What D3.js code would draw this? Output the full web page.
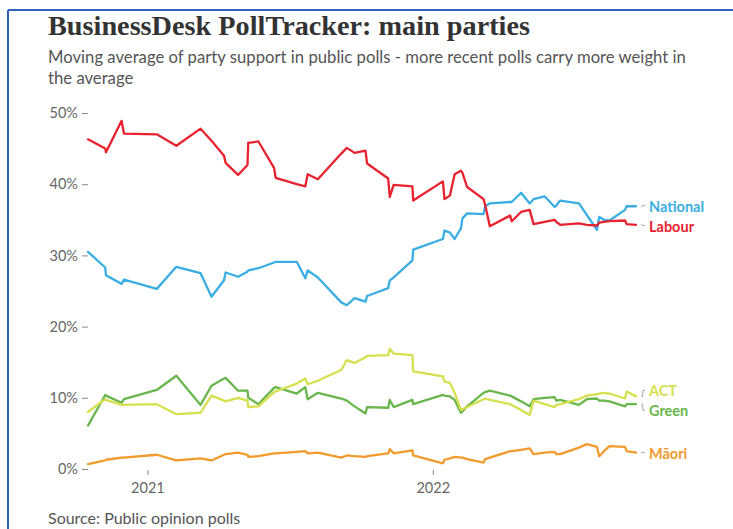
<!DOCTYPE html>
<html><head><meta charset="utf-8">
<script src="https://cdn.jsdelivr.net/npm/d3@7"></script>
<style>body{margin:0;background:#fff;overflow:hidden} svg{display:block}</style>
</head><body>
<svg id="chart" width="733" height="529"></svg>
<script>
// ---- data ----
const dates = ["2020-10-17","2020-11-08","2020-11-09","2020-11-29","2020-12-02","2021-01-13","2021-02-07","2021-03-10","2021-03-24","2021-04-09",
"2021-04-11","2021-04-27","2021-05-09","2021-05-10","2021-05-23","2021-06-12","2021-06-14","2021-07-11","2021-07-22","2021-07-25",
"2021-08-07","2021-09-06","2021-09-13","2021-09-23","2021-10-07","2021-10-09","2021-11-05","2021-11-07","2021-11-12","2021-12-06",
"2021-12-07","2022-01-14","2022-01-16","2022-01-23","2022-01-29","2022-02-06","2022-02-08","2022-02-14","2022-03-07","2022-03-09",
"2022-03-15","2022-04-10","2022-04-12","2022-04-24","2022-05-05","2022-05-10","2022-05-24","2022-06-06","2022-06-08","2022-06-13",
"2022-07-07","2022-07-17","2022-07-30","2022-08-02","2022-08-08","2022-08-15","2022-09-04","2022-09-06","2022-09-18"];
const labour = [46.3,45.0,44.5,48.9,47.1,47.0,45.4,47.8,46.1,44.0,
43.0,41.3,42.7,45.8,46.0,42.3,40.9,40.0,39.7,41.4,
40.7,44.3,45.1,44.4,44.7,42.9,40.8,38.2,39.9,39.7,
37.7,40.4,37.9,38.4,41.4,41.9,41.6,39.6,37.9,37.1,
34.1,35.6,34.8,36.1,36.4,34.4,34.7,35.0,34.7,34.3,
34.5,34.3,34.2,34.6,34.7,34.8,34.9,34.4,34.3];
const national = [30.5,28.3,27.2,26.0,26.6,25.3,28.4,27.5,24.2,26.5,
27.6,27.0,27.7,27.9,28.2,29.0,29.1,29.1,26.8,27.9,
26.9,23.4,23.0,24.0,23.5,24.3,25.4,26.5,26.9,29.3,
30.8,32.3,33.5,33.2,32.3,33.8,35.2,35.9,35.8,36.9,
37.3,37.5,37.5,38.8,37.3,37.9,38.3,36.8,37.0,37.7,
37.3,35.7,33.6,35.4,35.0,34.9,36.4,36.9,36.9];
const green = [6.1,10.4,10.3,9.3,9.8,11.1,13.1,9.0,11.7,12.7,
12.8,11.0,11.0,10.0,9.1,11.4,11.5,10.6,11.5,9.8,
10.7,9.9,9.6,8.8,7.8,8.7,8.6,9.7,8.7,9.7,
9.1,10.4,10.3,10.2,9.7,7.9,8.1,8.8,10.7,10.8,
11.0,10.3,10.2,9.5,8.8,9.8,10.0,10.1,9.6,9.7,
9.0,9.8,9.9,9.6,9.6,9.5,8.8,9.1,9.1];
const act = [8.0,9.8,9.7,9.0,9.0,9.1,7.7,7.9,10.3,9.6,
9.5,10.0,9.6,8.7,8.8,10.8,10.9,12.0,12.7,11.9,
12.4,13.9,15.3,14.9,15.7,15.9,16.0,16.9,16.2,16.0,
13.7,13.0,12.3,12.1,10.7,8.3,8.4,8.7,9.8,9.9,
9.7,9.1,9.0,8.3,7.6,9.6,9.1,8.7,9.0,9.1,
9.8,10.3,10.5,10.6,10.7,10.6,9.9,10.9,10.2];
const maori = [0.7,1.2,1.3,1.6,1.6,2.0,1.2,1.5,1.2,2.0,
2.1,2.3,2.0,1.7,1.8,2.2,2.2,2.4,2.5,2.2,
2.3,1.6,1.9,1.8,1.7,1.8,2.2,2.8,2.2,2.6,
1.9,0.8,1.3,1.5,1.7,1.6,1.6,1.4,0.9,1.4,
1.6,2.5,2.5,2.7,2.9,2.1,2.3,2.4,2.1,2.1,
3.0,3.5,3.1,1.8,2.5,3.2,3.1,2.5,2.3];
const seriesNames = ["National","Labour","ACT","Green","Māori"];
const seriesColors = ["#3aaee2","#e8222f","#d5e04f","#68b64c","#f29a2c"];
const yTicks = [0,10,20,30,40,50];
const xTickDates = ["2021-01-01","2022-01-01"];
const xTickLabels = ["2021","2022"];
const title = "BusinessDesk PollTracker: main parties";
const subtitle = ["Moving average of party support in public polls - more recent polls carry more weight in","the average"];
const source = "Source: Public opinion polls";

// ---- drawing ----
const svg = d3.select("#chart");
const parse = d3.timeParse("%Y-%m-%d");
const D = dates.map(parse);
const seriesVals = [national, labour, act, green, maori];

const x = d3.scaleTime().domain([D[0], D[D.length-1]]).range([88, 636]);
const y = d3.scaleLinear().domain([0, 50]).range([469, 113]);

// frame
svg.append("line").attr("x1",8).attr("x2",733).attr("y1",10).attr("y2",10).attr("stroke","#2f62b8").attr("stroke-width",2);
svg.append("line").attr("x1",8).attr("x2",8).attr("y1",10).attr("y2",529).attr("stroke","#2f62b8").attr("stroke-width",2);

svg.append("text").attr("x",48).attr("y",35).text(title)
  .attr("font-family","Liberation Serif, serif").attr("font-weight",700).attr("font-size",27).attr("fill","#333")
  .attr("textLength",482).attr("lengthAdjust","spacingAndGlyphs");
subtitle.forEach((s,i)=>{
  svg.append("text").attr("x",48).attr("y",63+i*21).text(s)
    .attr("font-family","Lato, sans-serif").attr("font-size",16.7).attr("fill","#555");
});

// y axis
const yAxis = svg.append("g").attr("transform","translate(88,0)")
  .call(d3.axisLeft(y).tickValues(yTicks).tickSize(6).tickPadding(4).tickFormat(d=>d+"%"));
yAxis.select(".domain").remove();
yAxis.selectAll(".tick line").attr("stroke","#888");
yAxis.selectAll("text").attr("font-family","Lato, sans-serif").attr("font-size",14.5).attr("fill","#666");

// x axis
const xAxis = svg.append("g").attr("transform","translate(0,469)")
  .call(d3.axisBottom(x).tickValues(xTickDates.map(parse)).tickSize(6).tickPadding(8)
    .tickFormat((d,i)=>xTickLabels[i]));
xAxis.select(".domain").remove();
xAxis.selectAll(".tick line").attr("stroke","#888").attr("y1",1);
xAxis.selectAll("text").attr("font-family","Lato, sans-serif").attr("font-size",14.5).attr("fill","#666");

// lines
const line = d3.line().x((d,i)=>x(D[i])).y(d=>y(d));
const order = [4,3,2,0,1];
order.forEach(k=>{
  svg.append("path").datum(seriesVals[k]).attr("d",line)
    .attr("fill","none").attr("stroke",seriesColors[k]).attr("stroke-width",2.3)
    .attr("stroke-linejoin","round").attr("stroke-linecap","round");
});

// labels with simple collision avoidance
const labels = seriesNames.map((n,k)=>{
  const v = seriesVals[k][seriesVals[k].length-1];
  return {name:n, color:seriesColors[k], y0:y(v), y:y(v)};
}).sort((a,b)=>a.y-b.y);
const gap = 20;
for (let it=0; it<50; it++){
  for (let i=1;i<labels.length;i++){
    const a=labels[i-1], b=labels[i];
    if (b.y - a.y < gap){
      const m=(a.y+b.y)/2; a.y=m-gap/2; b.y=m+gap/2;
    }
  }
}
labels.forEach(l=>{
  svg.append("path").attr("d",`M641,${l.y0} L642.5,${l.y0} L643,${l.y} L645,${l.y}`)
    .attr("fill","none").attr("stroke","#aaa").attr("stroke-width",1);
  svg.append("text").attr("x",649).attr("y",l.y+1).attr("dy","0.35em").text(l.name)
    .attr("font-family","Lato, sans-serif").attr("font-weight",700).attr("font-size",14.5).attr("fill",l.color);
});

svg.append("text").attr("x",48).attr("y",524).text(source)
  .attr("font-family","Lato, sans-serif").attr("font-size",16).attr("fill","#555");
</script>
</body></html>
